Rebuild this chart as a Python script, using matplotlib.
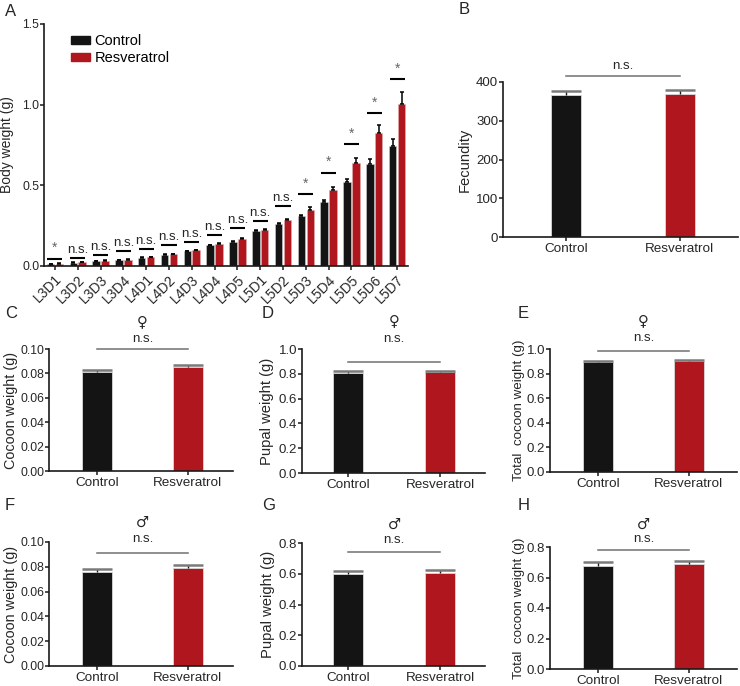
import matplotlib
matplotlib.use("Agg")
import matplotlib.pyplot as plt
import numpy as np
from matplotlib.patches import Patch

plt.rcParams['font.family'] = ['Liberation Sans', 'DejaVu Sans']

# ---------------- data ----------------
stages = ["L3D1", "L3D2", "L3D3", "L3D4", "L4D1", "L4D2", "L4D3", "L4D4", "L4D5",
          "L5D1", "L5D2", "L5D3", "L5D4", "L5D5", "L5D6", "L5D7"]
bw_control = [0.012, 0.020, 0.030, 0.038, 0.050, 0.070, 0.090, 0.128, 0.151,
              0.219, 0.263, 0.310, 0.395, 0.519, 0.634, 0.742]
bw_control_err = [0.002, 0.003, 0.002, 0.002, 0.003, 0.003, 0.004, 0.004, 0.005,
                  0.005, 0.006, 0.008, 0.014, 0.020, 0.029, 0.043]
bw_resv = [0.015, 0.022, 0.033, 0.040, 0.053, 0.073, 0.097, 0.139, 0.170,
           0.225, 0.287, 0.349, 0.473, 0.640, 0.826, 1.006]
bw_resv_err = [0.002, 0.003, 0.002, 0.002, 0.003, 0.003, 0.004, 0.004, 0.005,
               0.005, 0.006, 0.015, 0.017, 0.032, 0.050, 0.072]
bw_sig = ["*", "n.s.", "n.s.", "n.s.", "n.s.", "n.s.", "n.s.", "n.s.", "n.s.",
          "n.s.", "n.s.", "*", "*", "*", "*", "*"]
bw_sig_y = [0.042, 0.050, 0.066, 0.093, 0.108, 0.133, 0.151, 0.190, 0.235,
            0.279, 0.372, 0.444, 0.579, 0.754, 0.946, 1.157]

groups = ["Control", "Resveratrol"]
fecundity = [366, 369]
fecundity_err = [10, 10]

female_cocoon = [0.0812, 0.0856]
female_cocoon_err = [0.0016, 0.0013]
female_pupal = [0.810, 0.812]
female_pupal_err = [0.012, 0.012]
female_total = [0.892, 0.900]
female_total_err = [0.009, 0.014]

male_cocoon = [0.0762, 0.0793]
male_cocoon_err = [0.0020, 0.0020]
male_pupal = [0.600, 0.605]
male_pupal_err = [0.018, 0.018]
male_total = [0.678, 0.688]
male_total_err = [0.021, 0.019]

BLACK = "#141414"
RED = "#b0161e"
TXT = "#262626"

W, H = 740, 686
fig = plt.figure(figsize=(W / 100, H / 100), dpi=100)


def add_ax(x0, y0, x1, y1):
    return fig.add_axes([x0 / W, 1 - y1 / H, (x1 - x0) / W, (y1 - y0) / H])


def style(ax, ls=9.5):
    for s in ["top", "right"]:
        ax.spines[s].set_visible(False)
    for s in ["left", "bottom"]:
        ax.spines[s].set_linewidth(1.2)
        ax.spines[s].set_color("#1a1a1a")
    ax.tick_params(axis="both", direction="out", length=3, width=1.1,
                   color="#1a1a1a", labelsize=ls, labelcolor=TXT, pad=0.5)


# ---------------- Panel A ----------------
axA = add_ax(44, 24, 408, 266)
style(axA, 8.8)
x = np.arange(len(stages))
bw_w = 0.33
off = 0.195
axA.bar(x - off, bw_control, bw_w, color=BLACK, edgecolor="#d0d0d0", linewidth=0.4,
        yerr=[np.zeros(len(x)), bw_control_err], error_kw=dict(ecolor="black", elinewidth=1.1, capsize=1.6, capthick=1.1))
axA.bar(x + off, bw_resv, bw_w, color=RED, edgecolor="#e0b0b0", linewidth=0.4,
        yerr=[np.zeros(len(x)), bw_resv_err], error_kw=dict(ecolor="black", elinewidth=1.1, capsize=1.6, capthick=1.1))
for i, (s, yy) in enumerate(zip(bw_sig, bw_sig_y)):
    axA.plot([i - 0.33, i + 0.33], [yy, yy], color="black", lw=1.5, solid_capstyle="butt")
    if s == "*":
        axA.text(i, yy + 0.025, "*", ha="center", va="bottom", fontsize=10, color="#666666")
    else:
        axA.text(i, yy + 0.012, s, ha="center", va="bottom", fontsize=9.5, color=TXT)
axA.set_xlim(-0.48, 15.48)
axA.set_ylim(0, 1.5)
axA.set_yticks([0.0, 0.5, 1.0, 1.5])
axA.set_yticklabels(["0.0", "0.5", "1.0", "1.5"])
axA.set_xticks(x)
axA.set_xticklabels(stages, rotation=45, ha="right", va="top", rotation_mode="anchor", fontsize=10)
axA.tick_params(axis="x", pad=1.5)
axA.set_ylabel("Body weight (g)", fontsize=10, color=TXT, labelpad=6)
axA.legend(handles=[Patch(color=BLACK, label="Control"), Patch(color=RED, label="Resveratrol")],
           loc="upper left", bbox_to_anchor=(0.05, 0.995), frameon=False, fontsize=10.5,
           handlelength=1.3, handleheight=0.45, handletextpad=0.3, labelspacing=0.2,
           borderaxespad=0.2)
fig.text(5 / W, 1 - 11 / H, "A", fontsize=12, color=TXT, va="center", ha="left")


# ---------------- two-bar panels ----------------
def two_bar(ax, vals, errs, ylim, yticks, fmt, ylabel, line_y, ns_y, sym=None, sym_y=None,
            width=0.33, xlim=(-0.53, 1.5), tick_fs=9.5, label_fs=10.5, labelpad=3):
    style(ax, tick_fs)
    xx = np.arange(2)
    ax.bar(xx, vals, width, color=[BLACK, RED], edgecolor="#d8d8d8", linewidth=0.6, zorder=2)
    ax.errorbar(xx, vals, yerr=[[0, 0], errs], fmt="none", ecolor="#1a1a1a", elinewidth=1.0,
                capsize=0, zorder=3)
    for xi, v, e in zip(xx, vals, errs):
        ax.plot([xi - width / 2, xi + width / 2], [v + e, v + e], color="#7a7a7a", lw=1.8, zorder=4,
                solid_capstyle="butt")
    ax.set_xlim(*xlim)
    ax.set_ylim(*ylim)
    ax.set_yticks(yticks)
    ax.set_yticklabels([fmt.format(t) for t in yticks])
    ax.set_xticks(xx)
    ax.set_xticklabels(groups, fontsize=9.7)
    ax.tick_params(axis="x", pad=1.5)
    ax.set_ylabel(ylabel, fontsize=label_fs, color=TXT, labelpad=labelpad)
    ax.plot([0, 1], [line_y, line_y], color="#707070", lw=1.1, clip_on=False)
    ax.text(0.5, ns_y, "n.s.", ha="center", va="bottom", fontsize=9.5, color=TXT,
            transform=ax.transData, clip_on=False)
    if sym is not None:
        ax.text(0.5, sym_y, sym, ha="center", va="bottom", fontsize=10.5, color=TXT,
                family=["DejaVu Sans"], clip_on=False)


axB = add_ax(503, 82, 738, 237)
two_bar(axB, fecundity, fecundity_err, (0, 400), [0, 100, 200, 300, 400], "{:.0f}", "Fecundity",
        415, 425, width=0.26, xlim=(-0.55, 1.51), label_fs=10.6)
fig.text(459 / W, 1 - 10 / H, "B", fontsize=12, color=TXT, va="center", ha="left")

axC = add_ax(49, 349, 233, 471)
two_bar(axC, female_cocoon, female_cocoon_err, (0, 0.10), [0, 0.02, 0.04, 0.06, 0.08, 0.10], "{:.2f}",
        "Cocoon weight (g)", 0.0999, 0.1035, "♀", 0.1165, tick_fs=8.8, label_fs=10.4, labelpad=1.2)
fig.text(5 / W, 1 - 314 / H, "C", fontsize=12, color=TXT, va="center", ha="left")

axD = add_ax(302, 349, 485, 473)
two_bar(axD, female_pupal, female_pupal_err, (0, 1.0), [0, 0.2, 0.4, 0.6, 0.8, 1.0], "{:.1f}",
        "Pupal weight (g)", 0.898, 1.035, "♀", 1.165, xlim=(-0.5, 1.49), label_fs=10.6)
fig.text(262 / W, 1 - 314 / H, "D", fontsize=12, color=TXT, va="center", ha="left")

axE = add_ax(550, 349, 737, 472)
two_bar(axE, female_total, female_total_err, (0, 1.0), [0, 0.2, 0.4, 0.6, 0.8, 1.0], "{:.1f}",
        "Total  cocoon weight (g)", 0.986, 1.04, "♀", 1.17, xlim=(-0.53, 1.53), label_fs=9.6,
        labelpad=1.5)
fig.text(518 / W, 1 - 314 / H, "E", fontsize=12, color=TXT, va="center", ha="left")

axF = add_ax(49, 542, 233, 666)
two_bar(axF, male_cocoon, male_cocoon_err, (0, 0.10), [0, 0.02, 0.04, 0.06, 0.08, 0.10], "{:.2f}",
        "Cocoon weight (g)", 0.0909, 0.0975, "♂", 0.1095, tick_fs=8.8, label_fs=10.4, labelpad=1.2)
fig.text(5 / W, 1 - 505 / H, "F", fontsize=12, color=TXT, va="center", ha="left")

axG = add_ax(302, 543, 485, 666)
two_bar(axG, male_pupal, male_pupal_err, (0, 0.8), [0, 0.2, 0.4, 0.6, 0.8], "{:.1f}",
        "Pupal weight (g)", 0.74, 0.78, "♂", 0.875, xlim=(-0.5, 1.49), label_fs=10.6)
fig.text(262 / W, 1 - 505 / H, "G", fontsize=12, color=TXT, va="center", ha="left")

axH = add_ax(550, 547, 737, 669)
two_bar(axH, male_total, male_total_err, (0, 0.8), [0, 0.2, 0.4, 0.6, 0.8], "{:.1f}",
        "Total  cocoon weight (g)", 0.783, 0.815, "♂", 0.9, xlim=(-0.53, 1.53), label_fs=9.6,
        labelpad=1.5)
fig.text(518 / W, 1 - 505 / H, "H", fontsize=12, color=TXT, va="center", ha="left")

fig.savefig("out.png", dpi=100)
